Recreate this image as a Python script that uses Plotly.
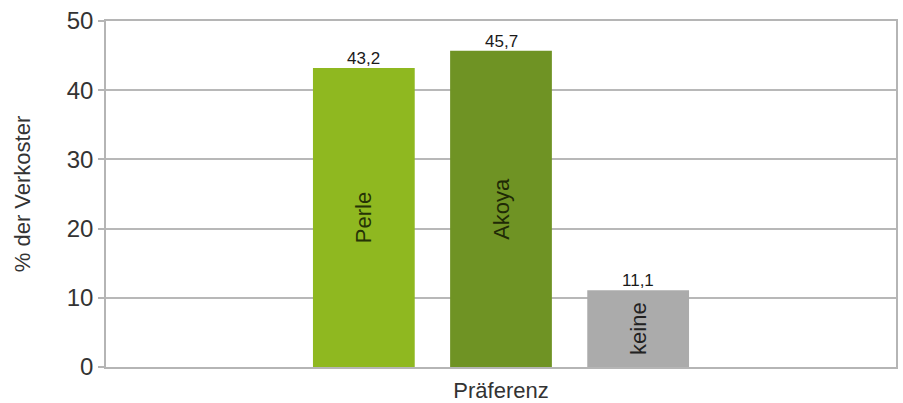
import plotly.graph_objects as go

categories = ["Perle", "Akoya", "keine"]
values = [43.2, 45.7, 11.1]
value_labels = ["43,2", "45,7", "11,1"]
bar_colors = ["#8fb820", "#6f9324", "#ababab"]
text_colors = ["#263306", "#1f2a06", "#222222"]
y_ticks = [0, 10, 20, 30, 40, 50]
x_title = "Präferenz"
y_title = "% der Verkoster"

positions = list(range(len(categories)))

fig = go.Figure()
fig.add_trace(go.Bar(
    x=positions,
    y=values,
    marker=dict(color=bar_colors, line=dict(width=0)),
    text=categories,
    textposition="inside",
    insidetextanchor="middle",
    textangle=-90,
    insidetextfont=dict(family="Liberation Sans, Arial, sans-serif", size=22, color=text_colors),
    hoverinfo="skip",
))

for p, v, lab in zip(positions, values, value_labels):
    fig.add_annotation(x=p, y=v, text=lab, showarrow=False, yanchor="bottom", yshift=-2,
                       font=dict(family="Liberation Sans, Arial, sans-serif", size=17, color="#1a1a1a"))

fig.update_layout(
    width=903, height=403,
    margin=dict(l=106, r=5, t=21, b=36),
    paper_bgcolor="white", plot_bgcolor="white",
    bargap=0.258,
    showlegend=False,
    font=dict(family="Liberation Sans, Arial, sans-serif", color="#333333"),
)
fig.update_xaxes(
    range=[-1.88, 3.88],
    showticklabels=False, ticks="",
    showgrid=False, zeroline=False,
    showline=True, mirror=True, linecolor="#b5b5b5", linewidth=1.5,
    title=dict(text=x_title, font=dict(size=22, color="#333333"), standoff=15),
)
fig.update_yaxes(
    range=[0, 50], tickvals=y_ticks,
    ticks="outside", ticklen=6, tickcolor="#b5b5b5", tickwidth=1.5,
    tickfont=dict(size=24, color="#333333"),
    showgrid=True, gridcolor="#b8b8b8", gridwidth=1.5,
    zeroline=False,
    showline=True, mirror=True, linecolor="#b5b5b5", linewidth=1.5,
    title=dict(text=y_title, font=dict(size=22, color="#333333"), standoff=30),
)

fig.write_html("out.html")
